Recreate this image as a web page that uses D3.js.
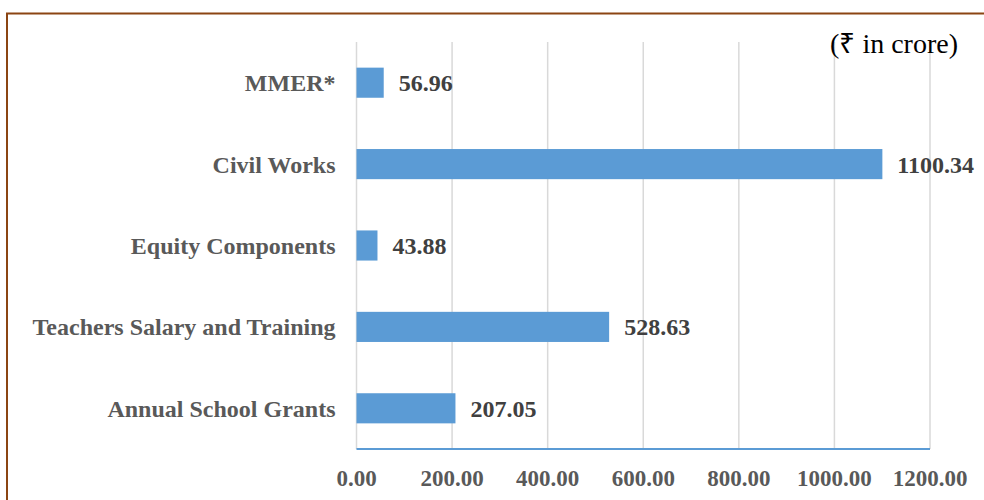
<!DOCTYPE html>
<html>
<head>
<meta charset="utf-8">
<script src="https://cdn.jsdelivr.net/npm/d3@7"></script>
<style>
  body { margin: 0; background: #fff; }
  svg { display: block; font-family: "Liberation Serif", "Times New Roman", serif; }
</style>
</head>
<body>
<div id="chart"></div>
<script>
const categories = ["MMER*", "Civil Works", "Equity Components", "Teachers Salary and Training", "Annual School Grants"];
const values = [56.96, 1100.34, 43.88, 528.63, 207.05];
const ticks = [0, 200, 400, 600, 800, 1000, 1200];

const width = 984, height = 500;
const margin = { top: 42, right: 54, bottom: 51, left: 356.5 };

const svg = d3.select("#chart").append("svg")
  .attr("width", width)
  .attr("height", height);

// frame
svg.append("path")
  .attr("d", "M7,500 V13.5 H984")
  .attr("fill", "none")
  .attr("stroke", "#8B4513")
  .attr("stroke-width", 2);

const x = d3.scaleLinear().domain([0, 1200]).range([margin.left, width - margin.right]);
const y = d3.scaleBand().domain(categories).range([margin.top, height - margin.bottom]).paddingInner(0.63).paddingOuter(0.315);

// gridlines
svg.append("g")
  .selectAll("line")
  .data(ticks)
  .join("line")
  .attr("x1", d => x(d)).attr("x2", d => x(d))
  .attr("y1", margin.top).attr("y2", height - margin.bottom)
  .attr("stroke", "#d9d9d9")
  .attr("stroke-width", 1.5);

// bars
svg.append("g")
  .selectAll("rect")
  .data(values)
  .join("rect")
  .attr("x", x(0))
  .attr("y", (d, i) => y(categories[i]))
  .attr("width", d => x(d) - x(0))
  .attr("height", y.bandwidth())
  .attr("fill", "#5B9BD5");

// bottom axis line
svg.append("line")
  .attr("x1", x(0)).attr("x2", x(1200))
  .attr("y1", height - margin.bottom).attr("y2", height - margin.bottom)
  .attr("stroke", "#5B9BD5")
  .attr("stroke-width", 2);

// value labels
svg.append("g")
  .selectAll("text")
  .data(values)
  .join("text")
  .attr("x", d => x(d) + 15)
  .attr("y", (d, i) => y(categories[i]) + y.bandwidth() / 2)
  .attr("dy", "0.35em")
  .attr("font-size", 24)
  .attr("font-weight", "bold")
  .attr("fill", "#404040")
  .text(d => d.toFixed(2));

// category labels
svg.append("g")
  .selectAll("text")
  .data(categories)
  .join("text")
  .attr("x", margin.left - 21)
  .attr("y", d => y(d) + y.bandwidth() / 2)
  .attr("dy", "0.35em")
  .attr("text-anchor", "end")
  .attr("font-size", 24)
  .attr("font-weight", "bold")
  .attr("fill", "#595959")
  .text(d => d);

// tick labels
svg.append("g")
  .selectAll("text")
  .data(ticks)
  .join("text")
  .attr("x", d => x(d))
  .attr("y", 478)
  .attr("dy", "0.35em")
  .attr("text-anchor", "middle")
  .attr("font-size", 23)
  .attr("font-weight", "bold")
  .attr("fill", "#595959")
  .text(d => d.toFixed(2));

// unit note
svg.append("text")
  .attr("x", 958)
  .attr("y", 43)
  .attr("dy", "0.35em")
  .attr("text-anchor", "end")
  .attr("font-size", 28)
  .attr("fill", "#000")
  .text("(₹ in crore)");
</script>
</body>
</html>
